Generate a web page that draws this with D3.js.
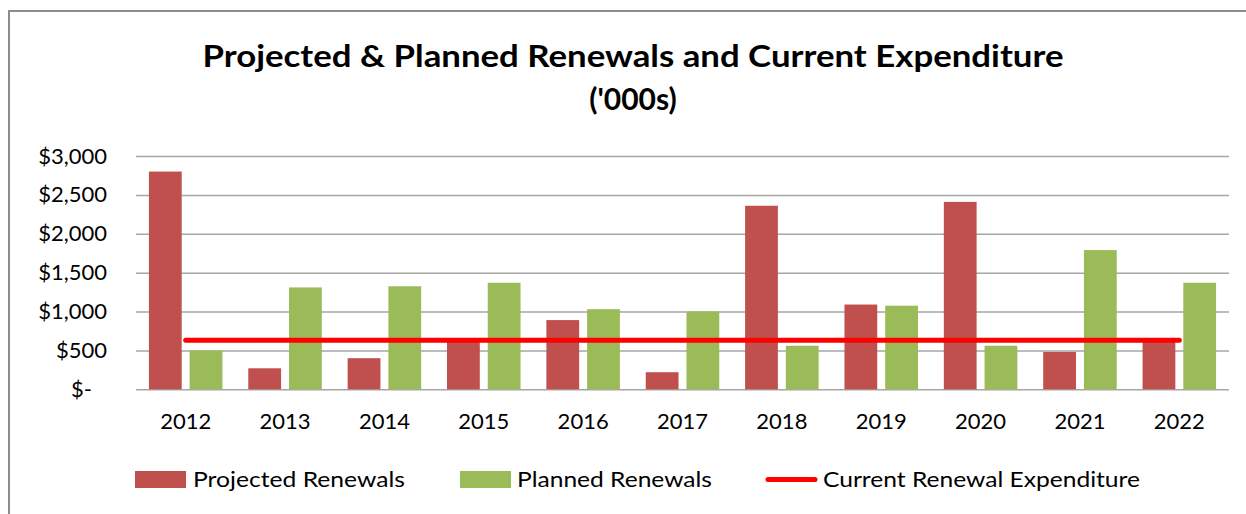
<!DOCTYPE html>
<html>
<head>
<meta charset="utf-8">
<script src="https://cdn.jsdelivr.net/npm/d3@7"></script>
<style>
  html, body { margin: 0; padding: 0; background: #fff; }
  svg { display: block; }
  text { font-family: Lato, "Open Sans", sans-serif; fill: #000; }
</style>
</head>
<body>
<svg id="chart" width="1246" height="514"></svg>
<script>
const years = ["2012","2013","2014","2015","2016","2017","2018","2019","2020","2021","2022"];
const projectedRenewals = [2800, 270, 400, 620, 890, 220, 2360, 1090, 2410, 480, 610];
const plannedRenewals = [500, 1310, 1325, 1370, 1030, 1000, 560, 1075, 560, 1790, 1370];
const currentExpenditure = [630, 630, 630, 630, 630, 630, 630, 630, 630, 630, 630];
const yTicks = [0, 500, 1000, 1500, 2000, 2500, 3000];
const titleLines = ["Projected & Planned Renewals and Current Expenditure", "('000s)"];
const seriesNames = ["Projected Renewals", "Planned Renewals", "Current Renewal Expenditure"];
const colors = { projected: "#C0504D", planned: "#9BBB59", current: "#FF0000" };

const svg = d3.select("#chart");

// outer border
svg.append("rect")
  .attr("x", 9).attr("y", 11).attr("width", 1260).attr("height", 540)
  .attr("fill", "none").attr("stroke", "#8c8c8c").attr("stroke-width", 2);

// title
svg.append("text").attr("x", 633).attr("y", 67).attr("text-anchor", "middle")
  .attr("font-size", 30).attr("font-weight", "bold").text(titleLines[0])
  .attr("textLength", 861).attr("lengthAdjust", "spacingAndGlyphs");
svg.append("text").attr("x", 633).attr("y", 110).attr("text-anchor", "middle")
  .attr("font-size", 30).attr("font-weight", "bold").text(titleLines[1]);

const x = d3.scaleBand().domain(years).range([136, 1229]).paddingInner(0.26).paddingOuter(0.13);
const xs = d3.scaleBand().domain(["projected", "planned"]).range([0, x.bandwidth()]).paddingInner(8 / 41);
const y = d3.scaleLinear().domain([0, 3000]).range([389.3, 156]);

// gridlines + y labels
const yAxis = d3.axisLeft(y).tickValues(yTicks).tickSize(-(1229 - 136))
  .tickFormat(d => d === 0 ? "$-" : "$" + d3.format(",")(d));
const ga = svg.append("g").attr("transform", "translate(136,0)").call(yAxis);
ga.select(".domain").remove();
ga.selectAll(".tick line").attr("stroke", "#a6a6a6").attr("stroke-width", 1.5);
ga.selectAll(".tick text").attr("x", -29).attr("font-size", 22)
  .style("font-family", "Lato, 'Open Sans', sans-serif").attr("fill", "#000");
ga.selectAll(".tick").filter(d => d === 0).select("text").attr("x", -44);

// x axis labels
const xAxis = d3.axisBottom(x).tickSize(0).tickPadding(24);
const gx = svg.append("g").attr("transform", "translate(0,389.3)").call(xAxis);
gx.select(".domain").remove();
gx.selectAll(".tick text").attr("font-size", 22)
  .style("font-family", "Lato, 'Open Sans', sans-serif").attr("fill", "#000");

// bars
const groups = svg.append("g").selectAll("g").data(years).join("g")
  .attr("transform", d => `translate(${x(d)},0)`);
groups.append("rect")
  .attr("x", xs("projected")).attr("width", xs.bandwidth())
  .attr("y", (d, i) => y(projectedRenewals[i]))
  .attr("height", (d, i) => y(0) - y(projectedRenewals[i]))
  .attr("fill", colors.projected);
groups.append("rect")
  .attr("x", xs("planned")).attr("width", xs.bandwidth())
  .attr("y", (d, i) => y(plannedRenewals[i]))
  .attr("height", (d, i) => y(0) - y(plannedRenewals[i]))
  .attr("fill", colors.planned);

// line
const line = d3.line()
  .x((d, i) => x(years[i]) + x.bandwidth() / 2)
  .y(d => y(d));
svg.append("path").datum(currentExpenditure)
  .attr("d", line).attr("fill", "none")
  .attr("stroke", colors.current).attr("stroke-width", 5).attr("stroke-linecap", "round");

// legend
const lg = svg.append("g");
const legendItems = [
  { name: seriesNames[0], type: "rect", color: colors.projected, sx: 135, tx: 193, w: 212 },
  { name: seriesNames[1], type: "rect", color: colors.planned, sx: 460, tx: 517, w: 195 },
  { name: seriesNames[2], type: "line", color: colors.current, sx: 766, tx: 823, w: 317 }
];
legendItems.forEach(it => {
  if (it.type === "rect") {
    lg.append("rect").attr("x", it.sx).attr("y", 471).attr("width", 51).attr("height", 17).attr("fill", it.color);
  } else {
    lg.append("line").attr("x1", it.sx + 2).attr("x2", it.sx + 49).attr("y1", 479.5).attr("y2", 479.5)
      .attr("stroke", it.color).attr("stroke-width", 5).attr("stroke-linecap", "round");
  }
  lg.append("text").attr("x", it.tx).attr("y", 487).attr("font-size", 22).text(it.name)
    .attr("textLength", it.w).attr("lengthAdjust", "spacingAndGlyphs");
});
</script>
</body>
</html>
